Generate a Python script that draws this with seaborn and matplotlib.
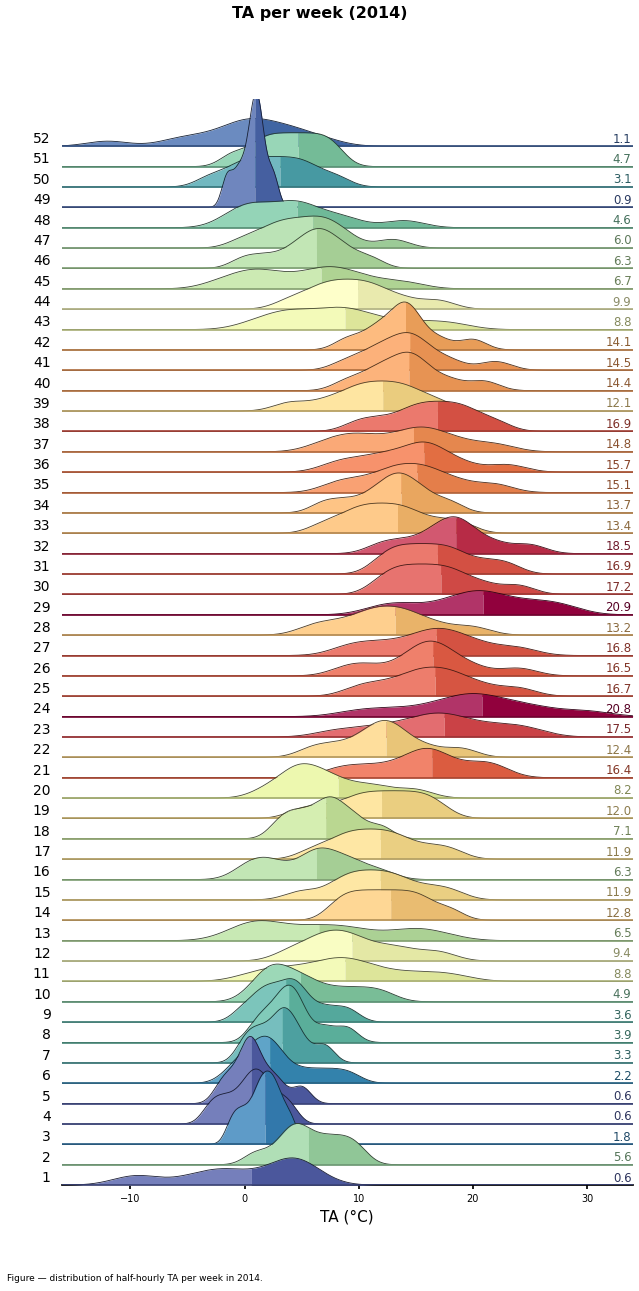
import numpy as np
import matplotlib
matplotlib.use("Agg")
import matplotlib.pyplot as plt
import seaborn as sns

sns.set_theme(style="white")
plt.rcParams['font.family'] = ['DejaVu Sans']
plt.rcParams['text.color'] = 'black'
plt.rcParams['axes.labelcolor'] = 'black'
plt.rcParams['xtick.color'] = 'black'

# rough sample values per week, read from ridge shapes
weeks = list(range(1, 53))
samples = [
    [-10, -9, -5, -3, -2, -1, 1, 3, 4, 4, 4.5, 5, 6],
    [1, 3, 4, 4.5, 5, 6, 7, 8, 9, 10],
    [-1, 0, 1, 1.5, 2, 2.5, 3, 4],
    [-3, -2, -1, 0, 0.5, 1, 1.5, 2, 3, 4],
    [-2, -1, 0, 0.5, 0.5, 1, 2, 3, 5],
    [-1, 0, 1, 1.5, 2, 2.5, 3, 5, 7, 9],
    [0, 1, 2, 3, 3.5, 4, 5, 7],
    [1, 2, 3, 3.5, 4, 4.5, 5, 7, 9],
    [0, 1.5, 2, 3, 4, 4.5, 5, 7, 9],
    [1, 2, 2.5, 3, 4, 5, 6, 8, 10, 12],
    [1, 3, 5, 7, 8, 9, 10, 12, 15, 18],
    [4, 6, 7, 8, 9, 10, 12, 14, 17],
    [0, 0.5, 1, 2, 4, 6, 7, 9, 10, 14, 15, 17],
    [8, 9, 10, 11, 12, 13, 14, 15, 16, 18],
    [5, 8, 9, 10, 11, 12, 13, 14, 16, 18],
    [0, 1, 2, 3, 5, 6, 6.5, 7, 8, 9, 10, 12],
    [6, 8, 9, 10, 11, 12, 13, 14, 16, 18],
    [3, 4, 5, 6, 7, 7.5, 8, 9, 10, 12],
    [5, 7, 9, 10, 11, 12, 13, 14, 15, 16, 17],
    [2, 4, 4.5, 5, 6, 7, 8, 10, 12, 15],
    [8, 10, 12, 14, 15, 16, 16.5, 17, 19, 21, 22],
    [6, 8, 10, 11, 12, 12.5, 13, 14, 16, 19],
    [8, 11, 13, 15, 16, 17, 18, 19, 21, 23, 25],
    [10, 13, 16, 18, 19, 20, 21, 22, 24, 26, 30],
    [10, 12, 14, 15, 16, 17, 18, 19, 21, 24],
    [9, 11, 14, 15, 16, 16.5, 17, 18, 20, 24],
    [9, 11, 13, 15, 16, 17, 18, 19, 21, 24],
    [6, 8, 10, 11, 12, 13, 14, 15, 17, 20],
    [12, 14, 17, 19, 20, 21, 22, 24, 26, 28],
    [12, 13, 14, 15, 16, 17, 18, 19, 21, 24],
    [12, 13, 14, 15, 16, 17, 18, 19, 21, 23],
    [12, 14, 16, 17, 18, 18.5, 19, 20, 22, 25],
    [7, 9, 10, 11, 12, 13, 14, 15, 17, 19],
    [7, 9, 11, 12, 13, 13.5, 14, 15, 16, 18],
    [8, 10, 12, 13, 14, 15, 16, 17, 19, 22],
    [8, 10, 12, 13, 15, 15.5, 16, 17, 19, 23],
    [7, 9, 10, 12, 14, 15, 16, 17, 19, 22],
    [10, 12, 14, 15, 16, 17, 18, 19, 20, 22],
    [4, 7, 9, 10, 11, 12, 13, 14, 15, 17],
    [9, 11, 12, 13, 14, 14.5, 15, 16, 18, 21],
    [9, 11, 12, 13, 14, 14.5, 15, 16, 18, 22],
    [9, 11, 12, 13, 14, 14, 14.5, 15, 17, 20],
    [1, 3, 4, 5, 7, 8, 9, 10, 12, 15, 18],
    [4, 6, 7, 8, 9, 10, 11, 12, 14, 17],
    [-2, 0, 1, 2, 4, 6, 7, 8, 9, 11, 14],
    [0, 2, 4, 5, 6, 6.5, 7, 8, 9, 11],
    [0, 2, 3, 4, 5, 6, 7, 7.5, 9, 13],
    [-1, 0, 1, 2, 4, 4.5, 5, 7, 9, 14],
    [-1.5, -0.5, 0.3, 0.8, 1, 1.2, 1.6, 2.5],
    [-3, -1, 0, 1, 2, 3, 4, 5, 6, 8],
    [-1, 1, 2, 3, 4, 5, 6, 7, 8],
    [-12, -6, -4, -2, -1, 0, 0.5, 1, 2, 3, 4, 5, 7],
]
medians = [0.6, 5.6, 1.8, 0.6, 0.6, 2.2, 3.3, 3.9, 3.6, 4.9, 8.8, 9.4, 6.5, 12.8,
           11.9, 6.3, 11.9, 7.1, 12.0, 8.2, 16.4, 12.4, 17.5, 20.8, 16.7, 16.5,
           16.8, 13.2, 20.9, 17.2, 16.9, 18.5, 13.4, 13.7, 15.1, 15.7, 14.8, 16.9,
           12.1, 14.4, 14.5, 14.1, 8.8, 9.9, 6.7, 6.3, 6.0, 4.6, 0.9, 3.1, 4.7, 1.1]

cmap = plt.get_cmap("Spectral_r")
norm = plt.Normalize(0, 20)
scale = 15.0
white = np.array([1, 1, 1, 1])
black = np.array([0, 0, 0, 1])

fig = plt.figure(figsize=(6.39, 12.91), dpi=100)
ax = fig.add_axes([0.097, 0.082, 0.893, 0.841])

for i in reversed(range(len(weeks))):
    m = medians[i]
    xs = np.sort(np.append(np.linspace(-16, 34, 600), m))
    s = np.array(samples[i], dtype=float)
    h = 0.6 * 1.06 * s.std() * len(s) ** -0.2
    dens = np.exp(-0.5 * ((xs[:, None] - s[None, :]) / h) ** 2).sum(1) / (len(s) * h * np.sqrt(2 * np.pi))
    base = i
    y = base + dens * scale
    col = np.array(cmap(norm(m)))
    light = col * 0.8 + white * 0.2
    dark = col * 0.92 + black * 0.08
    z = 100 - i
    ax.fill_between(xs, base, y, where=xs <= m, color=light, zorder=z, lw=0)
    ax.fill_between(xs, base, y, where=xs >= m, color=dark, zorder=z, lw=0)
    ax.plot(xs, y, color=col * 0.3 + black * 0.7, lw=0.6, zorder=z)
    ax.plot(xs, np.full_like(xs, base), color=col * 0.7 + black * 0.3, lw=1.2, zorder=z)
    ax.text(-0.02, base + 0.35, str(weeks[i]), transform=ax.get_yaxis_transform(),
            ha="right", va="center", fontsize=10)
    ax.text(0.998, base + 0.35, f"{m:.1f}", transform=ax.get_yaxis_transform(),
            ha="right", va="center", fontsize=8.5, color=col * 0.55 + black * 0.45)

ax.set_xlim(-16, 34)
ax.set_ylim(0, 53.3)
ax.set_yticks([])
ax.set_xticks([-10, 0, 10, 20, 30])
ax.tick_params(axis="x", labelsize=7, length=3, bottom=True)
for sp in ["left", "right", "top"]:
    ax.spines[sp].set_visible(False)
ax.spines["bottom"].set_color("black")
ax.set_xlabel("TA (°C)", fontsize=11)
fig.suptitle("TA per week (2014)", fontweight="bold", fontsize=11.5, y=0.995)
fig.text(0.011, 0.008, "Figure — distribution of half-hourly TA per week in 2014.", fontsize=6.5)
fig.savefig("out.png", dpi=100)
